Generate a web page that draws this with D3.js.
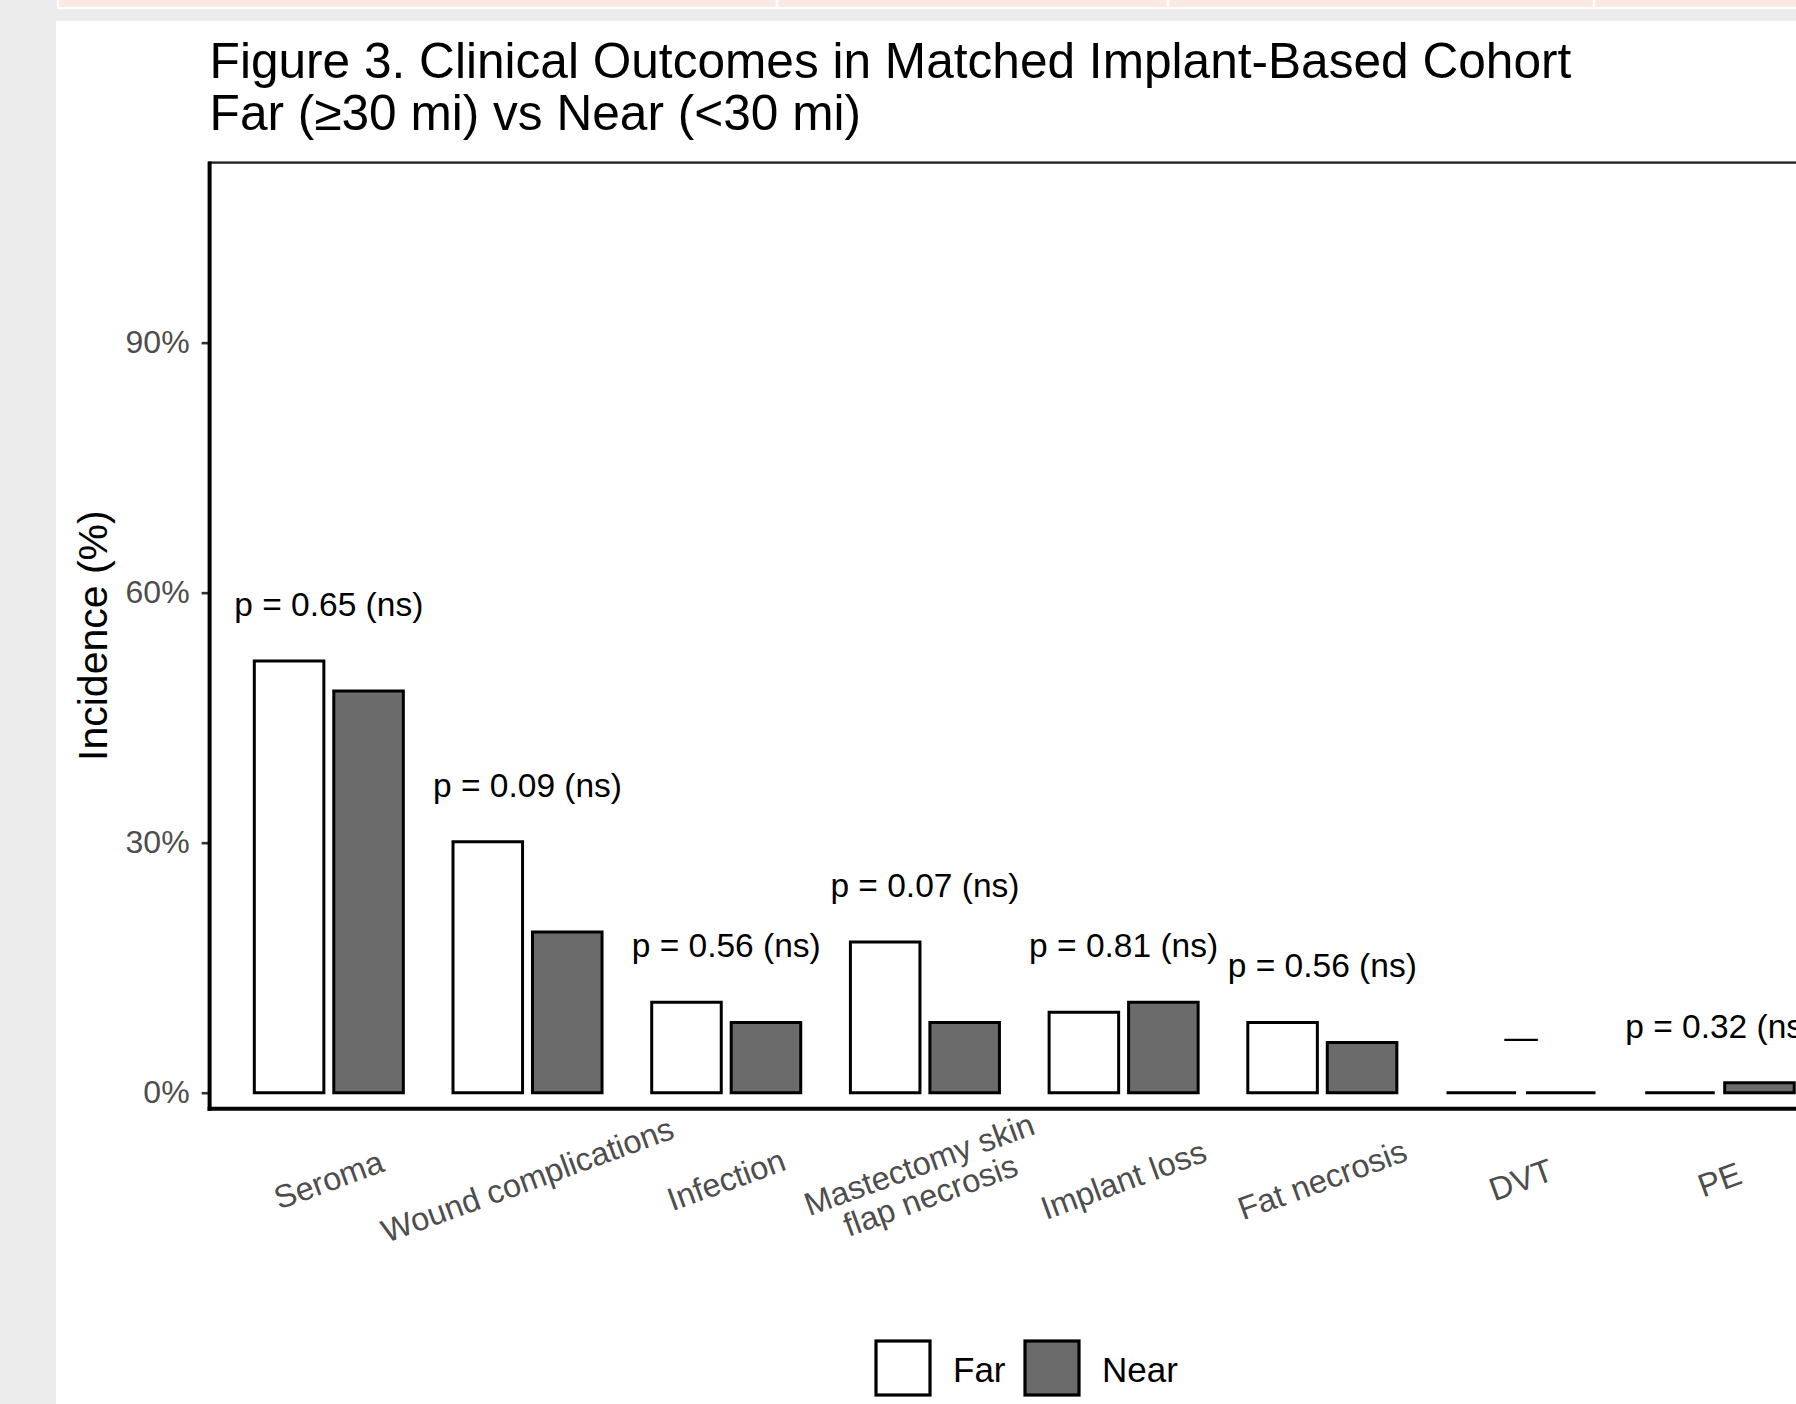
<!DOCTYPE html>
<html>
<head>
<meta charset="utf-8">
<script src="https://cdn.jsdelivr.net/npm/d3@7"></script>
<style>
  html, body { margin: 0; padding: 0; background: #ececec; overflow: hidden; }
  svg { display: block; }
  text { font-family: "Liberation Sans", Arial, Helvetica, sans-serif; }
</style>
</head>
<body>
<svg id="chart" width="1796" height="1404"></svg>
<script>
// Outcome categories (x axis); "\n" splits a label over two lines
const categories = [
  "Seroma",
  "Wound complications",
  "Infection",
  "Mastectomy skin\nflap necrosis",
  "Implant loss",
  "Fat necrosis",
  "DVT",
  "PE"
];
// Incidence (%) per group
const farValues  = [51.81, 30.12, 10.84, 18.07, 9.64, 8.43, 0, 0];
const nearValues = [48.19, 19.28,  8.43,  8.43, 10.84, 6.02, 0, 1.20];
// Significance annotation above each pair
const pLabels = [
  "p = 0.65 (ns)", "p = 0.09 (ns)", "p = 0.56 (ns)", "p = 0.07 (ns)",
  "p = 0.81 (ns)", "p = 0.56 (ns)", "\u2014", "p = 0.32 (ns)"
];
const groups = ["Far", "Near"];
const yTicks = [0, 30, 60, 90];

const fills = { Far: "#ffffff", Near: "#6b6b6b" };

const svg = d3.select("#chart");
const W = 1796, H = 1404;

// page background and the table row peeking in above the figure
svg.append("rect").attr("width", W).attr("height", H).attr("fill", "#ececec");
svg.append("rect").attr("x", 58).attr("y", -4).attr("width", W).attr("height", 12)
  .attr("fill", "#fbe9e5").attr("stroke", "#ffffff").attr("stroke-width", 2);
[777, 1168, 1594].forEach(x => {
  svg.append("line").attr("x1", x).attr("x2", x).attr("y1", 0).attr("y2", 8)
    .attr("stroke", "#ffffff").attr("stroke-width", 2.5);
});
svg.append("rect").attr("x", 56).attr("y", 21).attr("width", W).attr("height", H)
  .attr("fill", "#ffffff");

// panel geometry
const panel = { left: 209.6, top: 162.6, bottom: 1108.7 };
const step = 198.7;

const x = d3.scaleLinear()
  .domain([0.4, categories.length + 0.6])
  .range([panel.left, panel.left + (categories.length + 0.2) * step]);
const y = d3.scaleLinear()
  .domain([-1.92, 111.6])
  .range([panel.bottom, panel.top]);

const dodge = 0.8, barW = 0.35;
const offset = { Far: -dodge / 4, Near: dodge / 4 };

// title
const title = svg.append("text").attr("x", panel.left).attr("fill", "#000")
  .style("font-size", "49.6px");
title.append("tspan").attr("x", panel.left).attr("y", 78)
  .text("Figure 3. Clinical Outcomes in Matched Implant-Based Cohort");
title.append("tspan").attr("x", panel.left).attr("y", 130)
  .text("Far (\u226530 mi) vs Near (<30 mi)");

// panel border
const panelRight = x.range()[1];
svg.append("rect")
  .attr("x", panel.left).attr("y", panel.top)
  .attr("width", panelRight - panel.left).attr("height", panel.bottom - panel.top)
  .attr("fill", "none").attr("stroke", "#262626").attr("stroke-width", 2.4);

// bars (paths so zero-height bars still show their outline)
const barData = [];
categories.forEach((c, i) => {
  barData.push({ i: i + 1, g: "Far", v: farValues[i] });
  barData.push({ i: i + 1, g: "Near", v: nearValues[i] });
});
svg.append("g").selectAll("path").data(barData).join("path")
  .attr("d", d => {
    const x0 = x(d.i + offset[d.g] - barW / 2);
    const x1 = x(d.i + offset[d.g] + barW / 2);
    const y0 = y(0), y1 = y(d.v);
    return `M${x0},${y0}L${x0},${y1}L${x1},${y1}L${x1},${y0}Z`;
  })
  .attr("fill", d => fills[d.g])
  .attr("stroke", "#000")
  .attr("stroke-width", 3)
  .attr("stroke-linejoin", "miter");

// p-value labels sit above the taller bar of each pair
svg.append("g").selectAll("text").data(categories).join("text")
  .attr("x", (d, i) => x(i + 1))
  .attr("y", (d, i) => y(Math.max(farValues[i], nearValues[i])) - 45)
  .attr("text-anchor", "middle")
  .attr("fill", "#000")
  .style("font-size", "33.5px")
  .text((d, i) => pLabels[i]);

// y axis
const yAxis = svg.append("g")
  .attr("transform", `translate(${panel.left},0)`)
  .call(d3.axisLeft(y).tickValues(yTicks).tickFormat(d => d + "%")
    .tickSize(8).tickPadding(12));
yAxis.select(".domain").remove();
yAxis.selectAll(".tick line").attr("stroke", "#333").attr("stroke-width", 2.6);
yAxis.selectAll(".tick text")
  .attr("fill", "#4d4d4d")
  .style("font-size", "32px")
  .style("font-family", "'Liberation Sans', Arial, sans-serif");

// axis lines (heavier than the panel border)
svg.append("line")
  .attr("x1", panel.left).attr("x2", panel.left)
  .attr("y1", panel.top - 1).attr("y2", panel.bottom + 2)
  .attr("stroke", "#000").attr("stroke-width", 4);
svg.append("line")
  .attr("x1", panel.left - 2).attr("x2", panelRight)
  .attr("y1", panel.bottom).attr("y2", panel.bottom)
  .attr("stroke", "#000").attr("stroke-width", 4);

// rotated category labels
const lh = 33;
const xl = svg.append("g").selectAll("text").data(categories).join("text")
  .attr("transform", (d, i) => `translate(${x(i + 1)},1180) rotate(-20)`)
  .attr("text-anchor", "middle")
  .attr("fill", "#4d4d4d")
  .style("font-size", "32.5px");
xl.each(function(d) {
  const lines = d.split("\n");
  const t = d3.select(this);
  lines.forEach((ln, k) => {
    t.append("tspan")
      .attr("x", 0)
      .attr("y", (k - (lines.length - 1) / 2) * lh + 11)
      .text(ln);
  });
});

// y axis title
svg.append("text")
  .attr("transform", `translate(107,${(panel.top + panel.bottom) / 2}) rotate(-90)`)
  .attr("text-anchor", "middle")
  .attr("fill", "#000")
  .style("font-size", "41px")
  .text("Incidence (%)");

// legend
const legend = svg.append("g").attr("transform", "translate(876,1341)");
const keyPos = { Far: 0, Near: 149 };
groups.forEach(g => {
  const k = legend.append("g").attr("transform", `translate(${keyPos[g]},0)`);
  k.append("rect").attr("width", 54).attr("height", 54)
    .attr("fill", fills[g]).attr("stroke", "#000").attr("stroke-width", 3.2);
  k.append("text").attr("x", 77).attr("y", 41)
    .attr("fill", "#000").style("font-size", "35px").text(g);
});
</script>
</body>
</html>
